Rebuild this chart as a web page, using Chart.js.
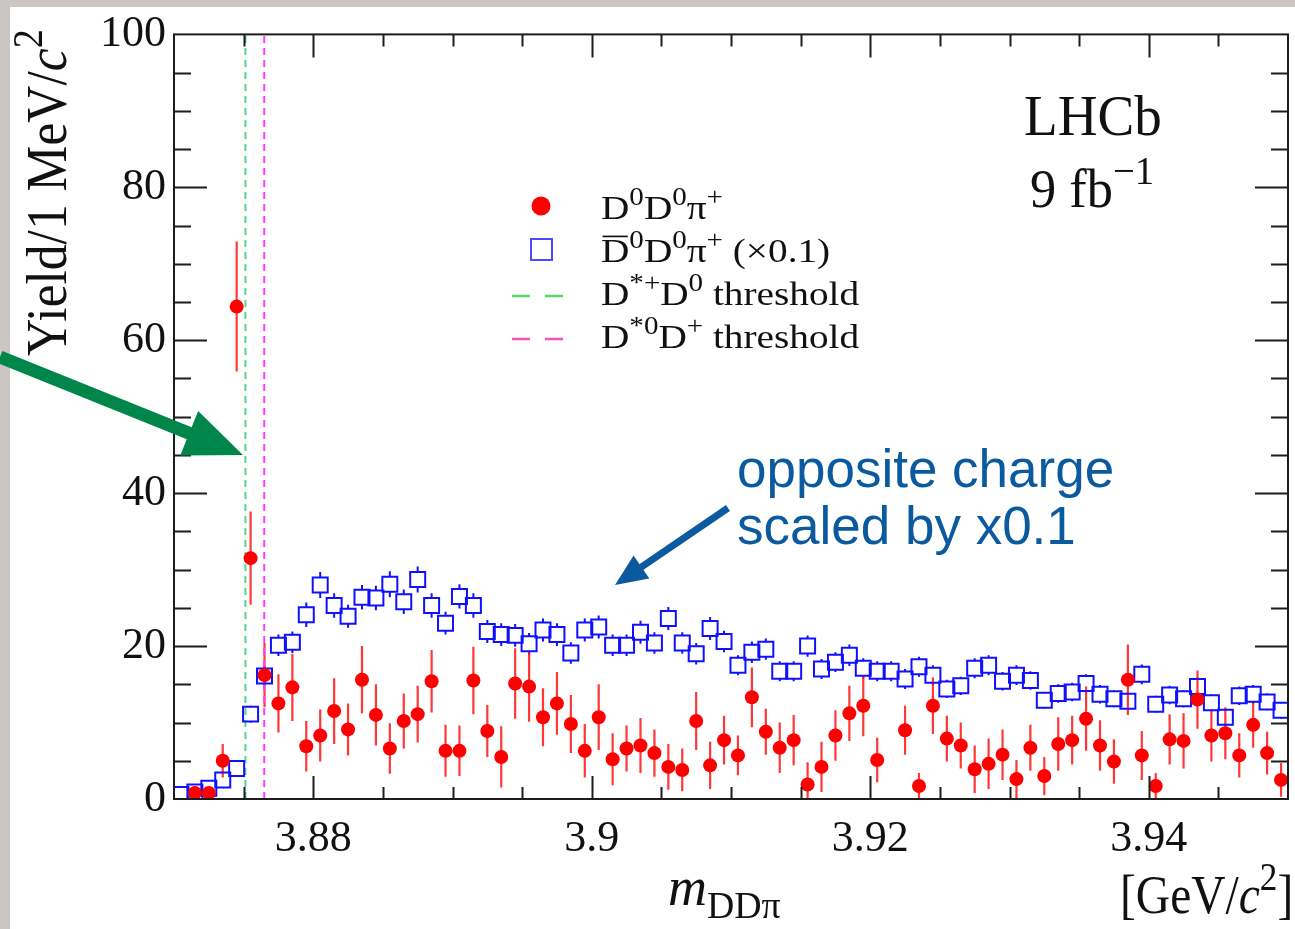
<!DOCTYPE html>
<html>
<head>
<meta charset="utf-8">
<script src="https://cdn.jsdelivr.net/npm/chart.js@4.4.1/dist/chart.umd.min.js"></script>
<style>
  html, body { margin: 0; padding: 0; background: #fff; }
  canvas { display: block; }
</style>
</head>
<body>
<canvas id="plot" width="1295" height="929"></canvas>
<script>
// bin centres (GeV), 1 MeV bins
const binCenters = [
  3.8705, 3.8715, 3.8725, 3.8735, 3.8745, 3.8755, 3.8765, 3.8775, 3.8785, 3.8795,
  3.8805, 3.8815, 3.8825, 3.8835, 3.8845, 3.8855, 3.8865, 3.8875, 3.8885, 3.8895,
  3.8905, 3.8915, 3.8925, 3.8935, 3.8945, 3.8955, 3.8965, 3.8975, 3.8985, 3.8995,
  3.9005, 3.9015, 3.9025, 3.9035, 3.9045, 3.9055, 3.9065, 3.9075, 3.9085, 3.9095,
  3.9105, 3.9115, 3.9125, 3.9135, 3.9145, 3.9155, 3.9165, 3.9175, 3.9185, 3.9195,
  3.9205, 3.9215, 3.9225, 3.9235, 3.9245, 3.9255, 3.9265, 3.9275, 3.9285, 3.9295,
  3.9305, 3.9315, 3.9325, 3.9335, 3.9345, 3.9355, 3.9365, 3.9375, 3.9385, 3.9395,
  3.9405, 3.9415, 3.9425, 3.9435, 3.9445, 3.9455, 3.9465, 3.9475, 3.9485, 3.9495
];

// D0 D0 pi+ yield
const sameSign = [
  null, 0.8, 0.8, 5.0, 64.4, 31.5, 16.2, 12.5, 14.6, 6.9,
  8.3, 11.5, 9.1, 15.6, 11.0, 6.6, 10.2, 11.1, 15.4, 6.3,
  6.3, 15.5, 8.9, 5.5, 15.1, 14.7, 10.7, 12.5, 9.8, 6.3,
  10.7, 5.2, 6.6, 7.0, 6.0, 4.2, 3.8, 10.2, 4.4, 7.7,
  5.7, 13.3, 8.8, 6.7, 7.7, 1.9, 4.2, 8.3, 11.2, 12.2,
  5.1, null, 9.0, 1.7, 12.2, 7.9, 7.0, 3.9, 4.6, 5.8,
  2.6, 6.7, 3.0, 7.2, 7.7, 10.5, 7.0, 4.9, 15.6, 5.7,
  1.7, 7.8, 7.6, 13.0, 8.3, 8.6, 5.7, 9.7, 6.0, 2.5
];
const sameSignErr = [
  0, 0.9, 0.9, 2.2, 8.5, 6.1, 4.2, 3.8, 4.4, 3.3,
  3.4, 4.3, 3.4, 4.4, 4.0, 3.3, 3.6, 3.7, 4.1, 3.4,
  3.3, 4.4, 3.4, 4.0, 4.6, 4.6, 3.8, 4.1, 3.8, 3.5,
  4.3, 3.4, 3.0, 3.6, 3.1, 3.0, 2.8, 3.8, 3.1, 3.2,
  2.6, 3.9, 3.0, 3.3, 3.3, 2.9, 3.3, 3.3, 3.6, 4.0,
  2.9, 0, 3.2, 1.7, 3.7, 3.0, 3.0, 3.1, 3.3, 3.3,
  2.5, 3.0, 2.5, 3.5, 3.2, 4.2, 3.3, 2.9, 4.6, 3.2,
  1.7, 3.3, 3.6, 3.8, 3.4, 3.4, 2.9, 3.0, 2.8, 2.2
];

// anti-D0 D0 pi+ yield, scaled x0.1
const oppSign = [
  0.6, 0.9, 1.4, 2.5, 4.0, 11.1, 16.1, 20.1, 20.5, 24.1,
  28.0, 25.3, 23.9, 26.4, 26.3, 28.1, 25.8, 28.7, 25.3, 23.0,
  26.5, 25.3, 21.9, 21.5, 21.4, 20.3, 22.1, 21.5, 19.1, 22.1,
  22.5, 20.1, 20.1, 21.8, 20.4, 23.6, 20.4, 19.0, 22.3, 20.6,
  17.5, 19.2, 19.6, 16.7, 16.7, 20.0, 17.0, 17.9, 18.8, 17.1,
  16.7, 16.7, 15.7, 17.3, 16.2, 14.4, 14.8, 17.1, 17.5, 15.4,
  16.2, 15.5, 12.9, 13.8, 14.0, 15.1, 13.7, 13.1, 12.8, 16.3,
  12.4, 13.6, 13.1, 14.7, 12.6, 10.7, 13.5, 13.7, 12.7, 11.6
];
const oppSignErr = [
  0.3, 0.3, 0.4, 0.5, 0.6, 1.1, 1.3, 1.4, 1.4, 1.6,
  1.7, 1.6, 1.5, 1.6, 1.6, 1.7, 1.6, 1.7, 1.6, 1.5,
  1.6, 1.6, 1.5, 1.5, 1.5, 1.4, 1.5, 1.5, 1.4, 1.5,
  1.5, 1.4, 1.4, 1.5, 1.4, 1.5, 1.4, 1.4, 1.5, 1.4,
  1.3, 1.4, 1.4, 1.3, 1.3, 1.4, 1.3, 1.3, 1.4, 1.3,
  1.3, 1.3, 1.3, 1.3, 1.3, 1.2, 1.2, 1.3, 1.3, 1.2,
  1.3, 1.2, 1.1, 1.2, 1.2, 1.2, 1.2, 1.1, 1.1, 1.3,
  1.1, 1.2, 1.1, 1.2, 1.1, 1.0, 1.2, 1.2, 1.1, 1.1
];

// D*+D0 and D*0D+ thresholds (GeV)
const thresholds = [3.87513, 3.87648];

const xTicks = [3.88, 3.9, 3.92, 3.94];
const yTicks = [0, 20, 40, 60, 80, 100];

const serif = '"Liberation Serif", "Times New Roman", serif';
const sans = '"Liberation Sans", Arial, sans-serif';

// text with sup/sub/italic pieces
function rich(ctx, x, y, parts, size, sx) {
  ctx.save();
  ctx.translate(x, y);
  ctx.scale(sx || 1, 1);
  let cx = 0;
  parts.forEach(p => {
    const t = p[0], k = p[1] || '';
    let fs = size, dy = 0;
    if (k.includes('^')) { fs = size * 0.74; dy = -size * 0.42; }
    if (k.includes('_')) { fs = size * 0.7; dy = size * 0.24; }
    ctx.font = (k.includes('i') ? 'italic ' : '') + fs + 'px ' + serif;
    ctx.fillText(t, cx, dy);
    const w = ctx.measureText(t).width;
    if (k.includes('o')) {
      ctx.fillRect(cx + fs * 0.04, dy - fs * 0.8, w - fs * 0.08, fs * 0.05);
    }
    cx += w;
  });
  ctx.restore();
}

function arrow(ctx, x0, y0, x1, y1, shaft, headLen, headHalf, color) {
  const dx = x1 - x0, dy = y1 - y0, len = Math.hypot(dx, dy);
  const ux = dx / len, uy = dy / len, px = -uy, py = ux;
  const bx = x1 - ux * headLen, by = y1 - uy * headLen;
  ctx.save();
  ctx.strokeStyle = color;
  ctx.fillStyle = color;
  ctx.lineWidth = shaft;
  ctx.beginPath();
  ctx.moveTo(x0, y0);
  ctx.lineTo(bx + ux * 2, by + uy * 2);
  ctx.stroke();
  ctx.beginPath();
  ctx.moveTo(x1, y1);
  ctx.lineTo(bx + px * headHalf, by + py * headHalf);
  ctx.lineTo(bx - px * headHalf, by - py * headHalf);
  ctx.closePath();
  ctx.fill();
  ctx.restore();
}

const decor = {
  id: 'decor',
  beforeDraw(chart) {
    const ctx = chart.ctx;
    ctx.save();
    ctx.fillStyle = '#ffffff';
    ctx.fillRect(0, 0, chart.width, chart.height);
    ctx.fillStyle = '#c9c6c3';
    ctx.fillRect(0, 0, 10, chart.height);
    ctx.fillRect(0, 0, chart.width, 7);
    ctx.restore();
  },
  beforeDatasetsDraw(chart) {
    const ctx = chart.ctx, xs = chart.scales.x, ys = chart.scales.y, a = chart.chartArea;
    ctx.save();
    ctx.beginPath();
    ctx.rect(a.left, a.top, a.right - a.left, a.bottom - a.top);
    ctx.clip();
    // blue error tips outside the open squares
    ctx.strokeStyle = '#1010ff';
    ctx.lineWidth = 2;
    oppSign.forEach((v, i) => {
      if (v == null) return;
      const x = xs.getPixelForValue(binCenters[i]);
      const y = ys.getPixelForValue(v);
      const yHi = ys.getPixelForValue(v + oppSignErr[i]);
      const yLo = ys.getPixelForValue(v - oppSignErr[i]);
      ctx.beginPath();
      if (y - yHi > 7) { ctx.moveTo(x, y - 7); ctx.lineTo(x, yHi); }
      if (yLo - y > 7) { ctx.moveTo(x, y + 7); ctx.lineTo(x, yLo); }
      ctx.stroke();
    });
    // red error bars
    ctx.strokeStyle = 'rgba(255,20,20,0.85)';
    ctx.lineWidth = 2.2;
    sameSign.forEach((v, i) => {
      if (v == null) return;
      const x = xs.getPixelForValue(binCenters[i]);
      ctx.beginPath();
      ctx.moveTo(x, ys.getPixelForValue(v + sameSignErr[i]));
      ctx.lineTo(x, ys.getPixelForValue(Math.max(0, v - sameSignErr[i])));
      ctx.stroke();
    });
    ctx.restore();
  },
  afterDraw(chart) {
    const ctx = chart.ctx, xs = chart.scales.x, ys = chart.scales.y, a = chart.chartArea;
    ctx.save();
    // frame and inward ticks on all sides
    ctx.strokeStyle = '#1c1c1c';
    ctx.lineWidth = 2;
    ctx.strokeRect(a.left, a.top, a.right - a.left, a.bottom - a.top);
    ctx.beginPath();
    for (let k = 1; k < 16; k++) {
      const v = xs.min + k * 0.005;
      const major = xTicks.some(t => Math.abs(t - v) < 1e-6);
      const L = major ? 23 : 12;
      const x = Math.round(xs.getPixelForValue(v)) + 0.5;
      ctx.moveTo(x, a.bottom); ctx.lineTo(x, a.bottom - L);
      ctx.moveTo(x, a.top); ctx.lineTo(x, a.top + L);
    }
    for (let v = 5; v < 100; v += 5) {
      const L = v % 20 === 0 ? 33 : 17;
      const y = Math.round(ys.getPixelForValue(v)) + 0.5;
      ctx.moveTo(a.left, y); ctx.lineTo(a.left + L, y);
      ctx.moveTo(a.right, y); ctx.lineTo(a.right - L, y);
    }
    ctx.stroke();

    // legend
    ctx.fillStyle = '#ff0000';
    ctx.beginPath();
    ctx.arc(541, 206, 9.5, 0, Math.PI * 2);
    ctx.fill();
    ctx.strokeStyle = '#4a4aff';
    ctx.lineWidth = 2;
    ctx.strokeRect(531, 239, 21, 21);
    ctx.lineWidth = 2.5;
    ctx.strokeStyle = '#5cd86a';
    ctx.beginPath();
    ctx.moveTo(512, 296); ctx.lineTo(530, 296);
    ctx.moveTo(545, 296); ctx.lineTo(563, 296);
    ctx.stroke();
    ctx.strokeStyle = '#ee55c0';
    ctx.beginPath();
    ctx.moveTo(512, 339); ctx.lineTo(530, 339);
    ctx.moveTo(545, 339); ctx.lineTo(563, 339);
    ctx.stroke();

    ctx.fillStyle = '#111';
    const ls = 33, lx = 601, sx = 1.19;
    rich(ctx, lx, 219, [['D'], ['0', '^'], ['D'], ['0', '^'], ['π'], ['+', '^']], ls, sx);
    rich(ctx, lx, 262, [['D', 'o'], ['0', '^'], ['D'], ['0', '^'], ['π'], ['+', '^'], [' (×0.1)']], ls, sx);
    rich(ctx, lx, 305, [['D'], ['*+', '^'], ['D'], ['0', '^'], [' threshold']], ls, sx);
    rich(ctx, lx, 348, [['D'], ['*0', '^'], ['D'], ['+', '^'], [' threshold']], ls, sx);

    // experiment label
    rich(ctx, 1024, 135, [['LHCb']], 58, 0.95);
    rich(ctx, 1030, 207, [['9 fb'], ['−1', '^']], 54, 0.97);

    // axis titles
    ctx.save();
    ctx.translate(66, 356);
    ctx.rotate(-Math.PI / 2);
    rich(ctx, 0, 0, [['Yield/1 MeV/'], ['c', 'i'], ['2', '^']], 56, 0.92);
    ctx.restore();
    rich(ctx, 668, 905, [['m', 'i'], ['DDπ', '_']], 54, 1.0);
    rich(ctx, 1120, 913, [['[GeV/'], ['c', 'i'], ['2', '^'], [']']], 54, 0.88);

    // overlay notes
    ctx.fillStyle = '#0b5aa0';
    ctx.font = '53px ' + sans;
    ctx.fillText('opposite charge', 737, 487);
    ctx.fillText('scaled by x0.1', 737, 544);
    arrow(ctx, 728, 508, 615, 585, 7, 32, 14, '#0b5aa0');
    arrow(ctx, 0, 357, 243, 455, 13, 58, 24, '#00854a');
    ctx.restore();
  }
};

const ctx = document.getElementById('plot').getContext('2d');
new Chart(ctx, {
  type: 'scatter',
  data: {
    datasets: [
      {
        label: 'D0D0pi+',
        data: binCenters.map((x, i) => ({ x: x, y: sameSign[i] })),
        pointStyle: 'circle',
        pointRadius: 7,
        backgroundColor: '#ff0000',
        borderWidth: 0
      },
      {
        label: 'anti-D0D0pi+ (x0.1)',
        data: binCenters.map((x, i) => ({ x: x, y: oppSign[i] })),
        pointStyle: 'rect',
        pointRadius: 10.6,
        borderColor: '#1010ff',
        backgroundColor: 'rgba(0,0,0,0)',
        borderWidth: 2
      },
      {
        label: 'D*+D0 threshold',
        data: [{ x: thresholds[0], y: 0 }, { x: thresholds[0], y: 100 }],
        showLine: true,
        pointRadius: 0,
        borderColor: '#4fd98a',
        borderDash: [7, 5],
        borderWidth: 2
      },
      {
        label: 'D*0D+ threshold',
        data: [{ x: thresholds[1], y: 0 }, { x: thresholds[1], y: 100 }],
        showLine: true,
        pointRadius: 0,
        borderColor: '#ff3cff',
        borderDash: [7, 5],
        borderWidth: 2
      }
    ]
  },
  options: {
    responsive: false,
    animation: false,
    events: [],
    layout: { autoPadding: false, padding: { top: 32, right: 7, left: 0, bottom: 0 } },
    plugins: { legend: { display: false }, tooltip: { enabled: false } },
    scales: {
      x: {
        type: 'linear',
        min: 3.87,
        max: 3.95,
        afterBuildTicks: s => { s.ticks = xTicks.map(v => ({ value: v })); },
        afterFit: s => { s.height = 130; s.paddingLeft = 0; s.paddingRight = 0; },
        grid: { display: false, drawTicks: false },
        border: { display: false },
        ticks: {
          color: '#111',
          padding: 14,
          maxRotation: 0,
          autoSkip: false,
          font: { family: serif, size: 44 },
          callback: v => String(v)
        }
      },
      y: {
        min: 0,
        max: 100,
        afterBuildTicks: s => { s.ticks = yTicks.map(v => ({ value: v })); },
        afterFit: s => { s.width = 174; },
        grid: { display: false, drawTicks: false },
        border: { display: false },
        ticks: {
          color: '#111',
          padding: 8,
          font: { family: serif, size: 44 },
          callback: v => String(v)
        }
      }
    }
  },
  plugins: [decor]
});
</script>
</body>
</html>
